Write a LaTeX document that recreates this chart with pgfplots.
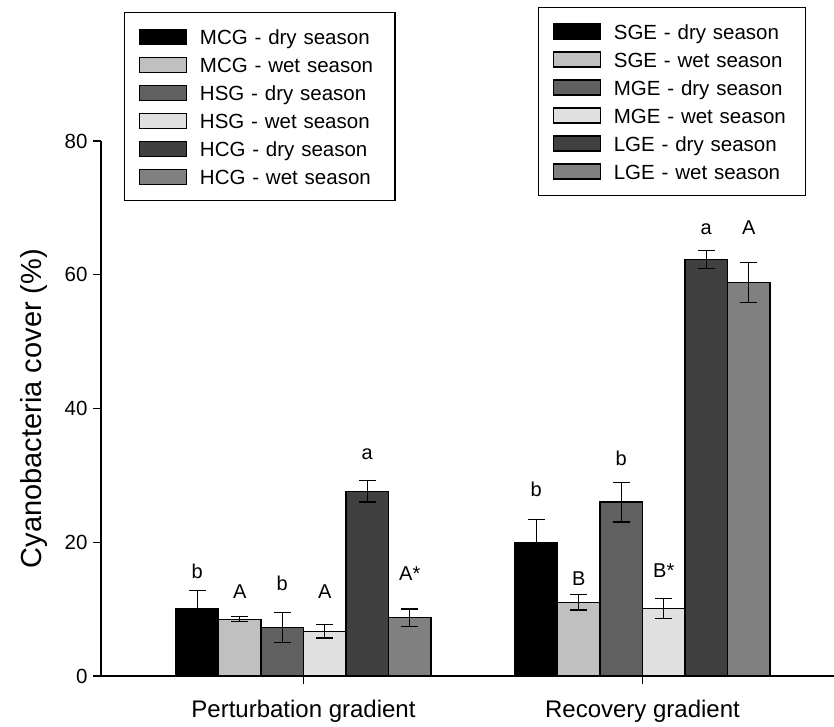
\documentclass[border=0pt]{standalone}
\usepackage{pgfplots}
\pgfplotsset{compat=1.18}
\usepackage{fontspec}
\setmainfont{Liberation Sans}

\definecolor{s1}{HTML}{000000}
\definecolor{s2}{HTML}{C0C0C0}
\definecolor{s3}{HTML}{606060}
\definecolor{s4}{HTML}{E0E0E0}
\definecolor{s5}{HTML}{404040}
\definecolor{s6}{HTML}{808080}

\pgfplotsset{
  legendbox/.style={
    legend cell align=left,
    legend style={draw=black, line width=1.3pt, fill=white,
      inner xsep=14pt, inner ysep=10pt, row sep=0pt, column sep=13pt,
      nodes={inner sep=0pt, anchor=west, text height=15pt, text depth=0pt,
        minimum height=28pt, text width=#1, align=left,
        font=\fontsize{20.5}{24}\selectfont}},
    legend image code/.code={\draw[##1, line width=1.3pt] (0pt,-7.5pt) rectangle (47pt,7.5pt);},
  },
}
\tikzset{
  lbl/.style={anchor=center, inner sep=0pt, text height=14.3pt, text depth=0pt,
    font=\fontsize{20}{24}\selectfont},
}

\begin{document}
\begin{tikzpicture}
\useasboundingbox (-101pt,-51pt) rectangle (733pt,676pt);
\begin{axis}[
  scale only axis, width=733pt, height=535pt,
  xmin=-0.5973, xmax=1.5649, ymin=0, ymax=80,
  axis x line=bottom, axis y line=left,
  axis line style={line width=1.3pt, -},
  ybar=0pt, bar width=42.5pt,
  xtick={0,1}, xticklabels={Perturbation gradient, Recovery gradient},
  ytick={0,20,40,60,80}, minor tick num=0,
  tick align=outside, major tick length=8pt,
  tick style={line width=1.3pt, black},
  xticklabel style={font=\fontsize{24}{28}\selectfont, yshift=-13pt},
  yticklabel style={font=\fontsize{20.5}{24}\selectfont, xshift=-2pt},
  /pgf/number format/assume math mode=true,
  ylabel={Cyanobacteria cover (\%)},
  ylabel style={font=\fontsize{29}{34}\selectfont,
    at={(axis description cs:-0.0809,0.5)}, anchor=base, inner sep=0pt},
  legendbox=181pt,
  legend style={at={(axis description cs:0.0314,1.241)}, anchor=north west},
  error bars/y dir=both, error bars/y explicit,
  error bars/error bar style={line width=1.3pt, black},
  error bars/error mark options={rotate=90, mark size=8.3pt, line width=1.3pt, black},
  every axis plot/.append style={draw=black, line width=1.3pt},
  clip=false,
]
% mean cover with standard error, one series per gradient position and season
\addplot[fill=s1] coordinates {(0,10.1) +- (0,2.7)  (1,20.0) +- (0,3.4)};
\addlegendentry{MCG - dry season}
\addplot[fill=s2] coordinates {(0,8.5)  +- (0,0.35) (1,11.0) +- (0,1.15)};
\addlegendentry{MCG - wet season}
\addplot[fill=s3] coordinates {(0,7.25) +- (0,2.25) (1,26.0) +- (0,2.95)};
\addlegendentry{HSG - dry season}
\addplot[fill=s4] coordinates {(0,6.7)  +- (0,1.0)  (1,10.05) +- (0,1.5)};
\addlegendentry{HSG - wet season}
\addplot[fill=s5] coordinates {(0,27.6) +- (0,1.6)  (1,62.3) +- (0,1.35)};
\addlegendentry{HCG - dry season}
\addplot[fill=s6] coordinates {(0,8.7)  +- (0,1.3)  (1,58.8) +- (0,3.0)};
\addlegendentry{HCG - wet season}

% significance letters above each bar
\node[lbl] at (axis cs:-0.3134,15.7) {b};
\node[lbl] at (axis cs:-0.1880,12.7) {A};
\node[lbl] at (axis cs:-0.0627,13.9) {b};
\node[lbl] at (axis cs:0.0627,12.6) {A};
\node[lbl] at (axis cs:0.1880,33.5) {a};
\node[lbl] at (axis cs:0.3134,15.4) {A*};
\node[lbl] at (axis cs:0.6866,27.9) {b};
\node[lbl] at (axis cs:0.8120,14.6) {B};
\node[lbl] at (axis cs:0.9373,32.6) {b};
\node[lbl] at (axis cs:1.0627,15.8) {B*};
\node[lbl] at (axis cs:1.1880,67.1) {a};
\node[lbl] at (axis cs:1.3134,67.1) {A};
\end{axis}

% legend for the recovery gradient
\begin{axis}[
  scale only axis, width=733pt, height=535pt,
  hide axis, xmin=0, xmax=1, ymin=0, ymax=1,
  legendbox=178pt,
  legend style={at={(axis description cs:0.596,1.2505)}, anchor=north west},
]
\addlegendimage{fill=s1, draw=black}
\addlegendentry{SGE - dry season}
\addlegendimage{fill=s2, draw=black}
\addlegendentry{SGE - wet season}
\addlegendimage{fill=s3, draw=black}
\addlegendentry{MGE - dry season}
\addlegendimage{fill=s4, draw=black}
\addlegendentry{MGE - wet season}
\addlegendimage{fill=s5, draw=black}
\addlegendentry{LGE - dry season}
\addlegendimage{fill=s6, draw=black}
\addlegendentry{LGE - wet season}
\end{axis}
\end{tikzpicture}
\end{document}
